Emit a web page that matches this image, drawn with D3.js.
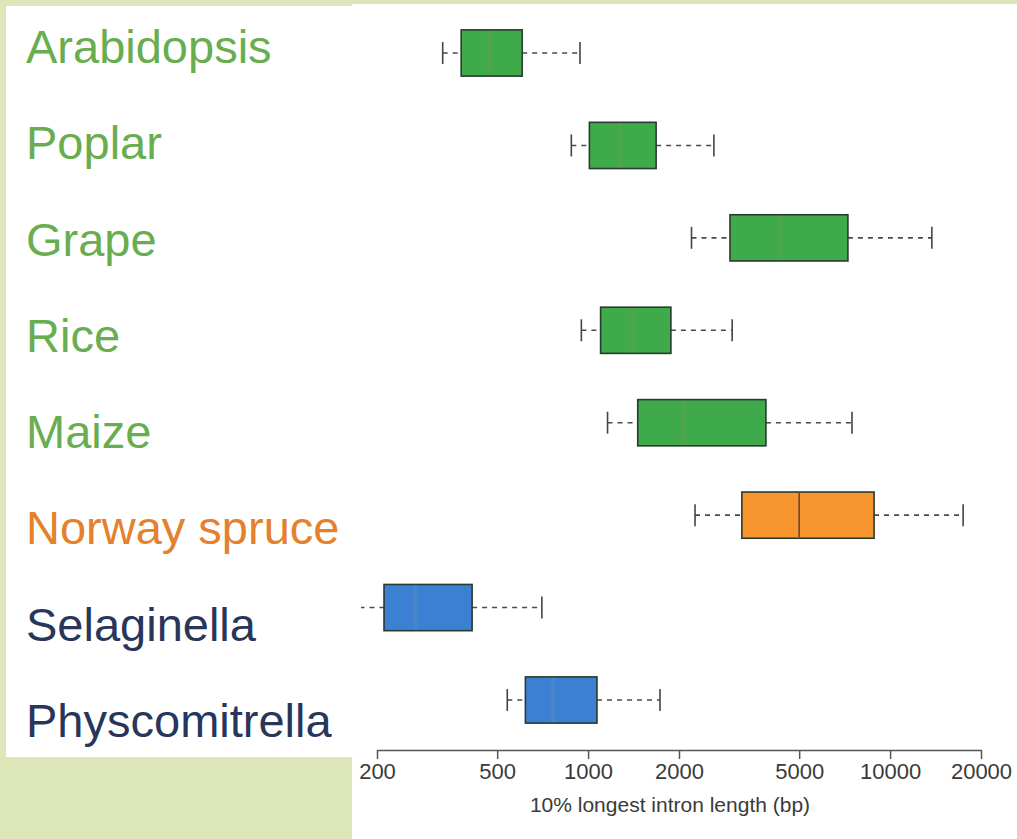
<!DOCTYPE html>
<html>
<head>
<meta charset="utf-8">
<script src="https://cdn.jsdelivr.net/npm/d3@7"></script>
<style>
  body { margin: 0; padding: 0; background: #dce6b9; }
  svg { display: block; }
</style>
</head>
<body>
<div id="canvas"></div>
<script>
// species, top to bottom
const species = ["Arabidopsis", "Poplar", "Grape", "Rice", "Maize", "Norway spruce", "Selaginella", "Physcomitrella"];
const groups = ["angio", "angio", "angio", "angio", "angio", "gymno", "lyco", "lyco"];
// 10% longest intron length (bp)
const whiskerLow  = [330, 880, 2200, 950, 1160, 2260, 175, 540];
const q1          = [380, 1010, 2950, 1100, 1460, 3230, 211, 620];
const median      = [470, 1270, 4300, 1400, 2060, 5000, 267, 765];
const q3          = [605, 1680, 7250, 1880, 3880, 8850, 413, 1070];
const whiskerHigh = [940, 2610, 13750, 3000, 7480, 17450, 703, 1730];
const tickValues  = [200, 500, 1000, 2000, 5000, 10000, 20000];

const boxFill   = { angio: "#3faa4a", gymno: "#f7952f", lyco: "#3c80d4" };
const medColor  = { angio: "#5f9f55", gymno: "#6a4a2a", lyco: "#5088c0" };
const textColor = { angio: "#68ad4e", gymno: "#e5802c", lyco: "#27365a" };

const data = species.map((s, i) => ({
  name: s, group: groups[i],
  lo: whiskerLow[i], q1: q1[i], med: median[i], q3: q3[i], hi: whiskerHigh[i]
}));

const width = 1017;
const height = 839;

const svg = d3.select("#canvas").append("svg")
  .attr("width", width)
  .attr("height", height);

svg.append("rect").attr("width", width).attr("height", height).attr("fill", "#dce6b9");
// left label panel and right plot panel
svg.append("rect").attr("x", 6).attr("y", 6).attr("width", 346).attr("height", 751).attr("fill", "#fff");
svg.append("rect").attr("x", 352).attr("y", 4).attr("width", 665).attr("height", 835).attr("fill", "#fff");

const x = d3.scaleLog()
  .domain([200, 20000])
  .range([377, 981]);

const y = d3.scalePoint()
  .domain(species)
  .range([53, 700]);

const yLabel = d3.scalePoint()
  .domain(species)
  .range([63, 737]);

const boxH = y.step() * 0.5;

// labels
svg.append("g").selectAll("text").data(data).enter().append("text")
  .attr("x", 26)
  .attr("y", d => yLabel(d.name))
  .attr("fill", d => textColor[d.group])
  .style("font-family", "'Liberation Sans', Arial, sans-serif")
  .style("font-size", "47px")
  .text(d => d.name);

svg.append("clipPath").attr("id", "plotclip")
  .append("rect").attr("x", 361).attr("y", 0).attr("width", 660).attr("height", 760);

const g = svg.append("g").attr("clip-path", "url(#plotclip)");

const rows = g.selectAll("g.row").data(data).enter().append("g").attr("class", "row");

// whiskers
rows.append("line")
  .attr("x1", d => x(d.lo)).attr("x2", d => x(d.q1))
  .attr("y1", d => y(d.name)).attr("y2", d => y(d.name))
  .attr("stroke", "#4a4a4a").attr("stroke-width", 1.6).attr("stroke-dasharray", "5,5");
rows.append("line")
  .attr("x1", d => x(d.q3)).attr("x2", d => x(d.hi))
  .attr("y1", d => y(d.name)).attr("y2", d => y(d.name))
  .attr("stroke", "#4a4a4a").attr("stroke-width", 1.6).attr("stroke-dasharray", "5,5");
// caps
rows.append("line")
  .attr("x1", d => x(d.lo)).attr("x2", d => x(d.lo))
  .attr("y1", d => y(d.name) - 11).attr("y2", d => y(d.name) + 11)
  .attr("stroke", "#444").attr("stroke-width", 1.6);
rows.append("line")
  .attr("x1", d => x(d.hi)).attr("x2", d => x(d.hi))
  .attr("y1", d => y(d.name) - 11).attr("y2", d => y(d.name) + 11)
  .attr("stroke", "#444").attr("stroke-width", 1.6);
// boxes
rows.append("rect")
  .attr("x", d => x(d.q1))
  .attr("y", d => y(d.name) - boxH / 2)
  .attr("width", d => x(d.q3) - x(d.q1))
  .attr("height", boxH)
  .attr("fill", d => boxFill[d.group])
  .attr("stroke", "#2b3a2e")
  .attr("stroke-width", 1.6);
// medians (faint in the green and blue boxes)
rows.append("line")
  .attr("x1", d => x(d.med)).attr("x2", d => x(d.med))
  .attr("y1", d => y(d.name) - boxH / 2 + 1).attr("y2", d => y(d.name) + boxH / 2 - 1)
  .attr("stroke", d => medColor[d.group])
  .attr("stroke-opacity", d => d.group == "gymno" ? 1 : 0.6)
  .attr("stroke-width", d => d.group == "gymno" ? 1.6 : 4);

// axis
const axis = svg.append("g")
  .attr("transform", "translate(0,750)")
  .call(d3.axisBottom(x).tickValues(tickValues).tickFormat(d3.format("d")).tickSize(9).tickSizeOuter(0).tickPadding(4));
axis.select(".domain").attr("stroke", "#555").attr("stroke-width", 1.5);
axis.selectAll(".tick line").attr("stroke", "#555").attr("stroke-width", 1.5);
axis.selectAll(".tick text")
  .attr("fill", "#3a3a3a")
  .style("font-family", "'Liberation Sans Narrow', 'Liberation Sans', Arial, sans-serif")
  .style("font-size", "22px");

svg.append("text")
  .attr("x", 670)
  .attr("y", 812)
  .attr("text-anchor", "middle")
  .attr("fill", "#3a3a3a")
  .style("font-family", "'Liberation Sans Narrow', 'Liberation Sans', Arial, sans-serif")
  .style("font-size", "21px")
  .text("10% longest intron length (bp)");
</script>
</body>
</html>
